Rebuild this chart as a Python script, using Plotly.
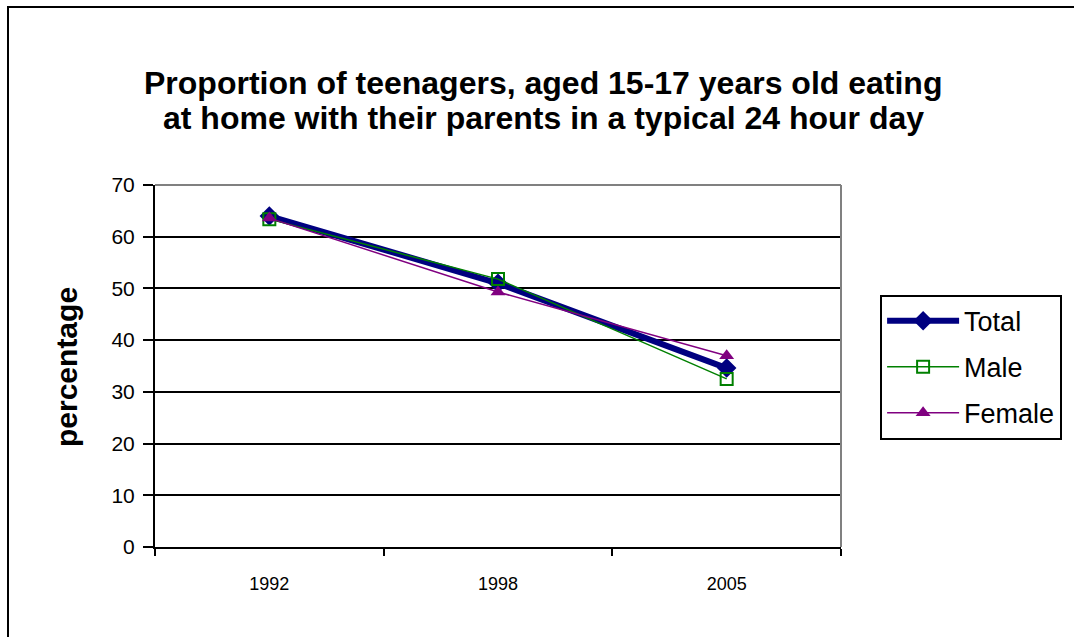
import plotly.graph_objects as go

# data
years = ["1992", "1998", "2005"]
total = [64.0, 51.0, 34.6]
male = [63.4, 51.8, 32.5]
female = [63.6, 49.3, 37.0]

title_lines = [
    "Proportion of teenagers, aged 15-17 years old eating",
    "at home with their parents in a typical 24 hour day",
]

FONT = "Liberation Sans, Arial, sans-serif"

fig = go.Figure()

fig.add_trace(go.Scatter(
    x=years, y=total, name="Total", legendgroup="t",
    mode="lines+markers",
    line=dict(color="#000080", width=6),
    marker=dict(symbol="diamond", size=15, color="#000080"),
))
fig.add_trace(go.Scatter(
    x=years, y=male, name="Male", legendgroup="m",
    mode="lines+markers",
    line=dict(color="#008000", width=1.5),
    marker=dict(symbol="square-open", size=12, color="#008000", line=dict(width=2)),
))
fig.add_trace(go.Scatter(
    x=years, y=female, name="Female", legendgroup="f",
    mode="lines+markers",
    line=dict(color="#800080", width=1.5),
    marker=dict(symbol="triangle-up", size=13, color="#800080"),
))

fig.update_layout(
    width=1074, height=637,
    margin=dict(l=155, r=233, t=185, b=90),
    paper_bgcolor="white", plot_bgcolor="white",
    font=dict(family=FONT, color="black"),
    legend=dict(
        x=1.057, xanchor="left", y=0.497, yanchor="middle",
        bordercolor="black", borderwidth=2,
        font=dict(size=27),
        tracegroupgap=8,
        itemwidth=72,
    ),
    showlegend=True,
)

fig.update_xaxes(
    type="category", tickson="boundaries", ticks="outside", ticklen=7,
    tickcolor="black", tickwidth=2,
    showline=True, linecolor="black", linewidth=2,
    showgrid=False, tickfont=dict(size=18), ticklabelstandoff=19,
    range=[-0.5, 2.5],
)
fig.update_yaxes(
    range=[0, 70], dtick=10, ticks="outside", ticklen=10,
    tickcolor="black", tickwidth=2,
    showline=True, linecolor="black", linewidth=2,
    showgrid=True, gridcolor="black", gridwidth=1.5,
    tickfont=dict(size=21), ticklabelstandoff=4, zeroline=False,
)

# grey plot-area border (top and right), as in the original
fig.add_shape(type="line", xref="paper", yref="paper", x0=0, x1=1, y0=1, y1=1,
              line=dict(color="#808080", width=2), layer="above")
fig.add_shape(type="line", xref="paper", yref="paper", x0=1, x1=1, y0=0, y1=1,
              line=dict(color="#808080", width=2), layer="above")

# outer chart frame
fig.add_shape(type="rect", xref="paper", yref="paper",
              x0=(8 - 155) / 686, x1=(1090 - 155) / 686,
              y0=(547 - 660) / 362, y1=(547 - 7) / 362,
              line=dict(color="black", width=2))

# title as two lines, tighter than plotly's own line spacing
for line, py in zip(title_lines, [83, 118]):
    fig.add_annotation(
        text=line, xref="paper", yref="paper",
        x=(543 - 155) / 686, y=(547 - py) / 362, showarrow=False,
        xanchor="center", yanchor="middle",
        font=dict(size=32, family=FONT, weight="bold"),
    )

fig.add_annotation(
    text="percentage", textangle=-90, xref="paper", yref="paper",
    x=(66 - 155) / 686, y=(547 - 367) / 362, showarrow=False,
    xanchor="center", yanchor="middle",
    font=dict(size=30, family=FONT, weight="bold"),
)

# drop the default page margin so the chart sits at the window's corner
fig.write_html("out.html", config={"displayModeBar": False},
               post_script="document.body.style.margin='0';")
